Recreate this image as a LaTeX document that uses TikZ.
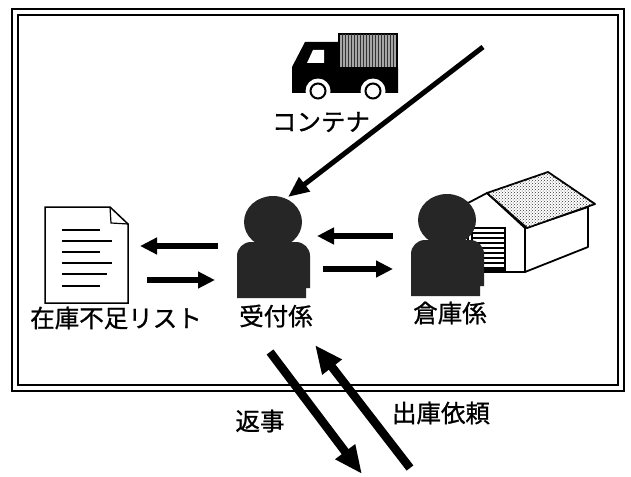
\documentclass[tikz,border=0pt]{standalone}
\usepackage{fontspec}
\newfontfamily\jp[FakeBold=1]{Noto Sans CJK JP}
\usetikzlibrary{arrows.meta,patterns}

\tikzset{
	jplabel/.style={font=\jp\fontsize{24.5}{28}\selectfont, inner sep=0pt},
	flow/.style={line width=5.5pt, -{Triangle[length=17pt,width=16pt]}},
	longflow/.style={line width=5pt, -{Triangle[length=21pt,width=17pt]}},
	bigflow/.style={line width=8.5pt, -{Triangle[length=28pt,width=23pt]}},
}
\def\worker(#1,#2){
	\begin{scope}[shift={(#1,#2)}]
		\fill[black!85] (0,0) ellipse (29pt and 26pt);
		\fill[black!85] (-36,76) -- (-36,34) arc[start angle=180, end angle=90, radius=14pt]
			-- (23,20) arc[start angle=90, end angle=0, radius=14pt]
			-- (37,66) -- (33,66) -- (33,76) -- cycle;
	\end{scope}
}

\begin{document}
\begin{tikzpicture}[x=1pt, y=-1pt]
		%%%%% START %%%%%
		\fill[white] (0,0) rectangle (631,476);
		\useasboundingbox (0,0) rectangle (631,476);
		
		\draw[line width=2pt] (12,9) rectangle (624,391);
		\draw[line width=2pt] (18,15) rectangle (618,385);
		
		\fill (292,93) -- (292,67) -- (305,42) -- (338,42) -- (338,68) -- (398,68) -- (398,93) -- cycle;
		\draw[line width=2.5pt, fill=black!35] (339,34) rectangle (397,68);
		\fill[pattern=vertical lines, pattern color=black!80] (340,35) rectangle (396,67);
		\fill[white] (307,63) -- (313,50) -- (324,50) -- (324,63) -- cycle;
		\fill[white] (318,91) circle (12.5pt);
		\draw[line width=2pt, fill=white] (318,91) circle (7.5pt);
		\fill[white] (373,91) circle (12.5pt);
		\draw[line width=2pt, fill=white] (373,91) circle (7.5pt);
		\node[jplabel] (container) at (321,122) {コンテナ};
		
		\draw[line width=1.5pt, fill=white] (45,207) -- (110,207) -- (128,224) -- (128,303) -- (45,303) -- cycle;
		\draw[line width=1.2pt] (110,207) -- (111,223) -- (128,224);
		\draw[line width=1.8pt] (62,230) -- (100,230);
		\draw[line width=1.8pt] (62,241) -- (112,241);
		\draw[line width=1.8pt] (62,252) -- (100,252);
		\draw[line width=1.8pt] (62,263) -- (112,263);
		\draw[line width=1.8pt] (62,274) -- (107,274);
		\draw[line width=1.8pt] (62,286) -- (100,286);
		\node[jplabel] (shortage) at (116,318) {在庫不足リスト};
		
		\draw[line width=1.8pt, fill=white, line join=round] (468,203) -- (487,193) -- (525,228) -- (525,272) -- (468,272) -- cycle;
		\draw[line width=1.8pt, fill=white, line join=round] (525,228) -- (588,207) -- (588,247) -- (525,272) -- cycle;
		\draw[line width=1.8pt, fill=white, line join=round] (487,193) -- (548,172) -- (595,204) -- (527,228) -- cycle;
		\fill[pattern=crosshatch dots, pattern color=black!80] (487,193) -- (548,172) -- (595,204) -- (527,228) -- cycle;
		\draw[line width=1.5pt, fill=white] (472,228) rectangle (505,270);
		\foreach \y in {233,238,...,268}
			\draw[line width=1.8pt] (472,\y) -- (505,\y);
		
		\worker(273,222)
		\worker(447,220)
		\node[jplabel] (receiver) at (276,316) {受付係};
		\node[jplabel] (keeper) at (450,313) {倉庫係};
		
		\coordinate (truck-out) at (483,47);
		\coordinate (receiver-top) at (288,197);
		\coordinate (list-in) at (140,246);
		\coordinate (list-out) at (147,280);
		\coordinate (receiver-w1) at (218,246);
		\coordinate (receiver-w2) at (215,280);
		\coordinate (receiver-e1) at (317,236);
		\coordinate (receiver-e2) at (323,269);
		\coordinate (keeper-w1) at (393,236);
		\coordinate (keeper-w2) at (393,269);
		\coordinate (reply-start) at (270,352);
		\coordinate (reply-end) at (362,474);
		\coordinate (order-start) at (410,468);
		\coordinate (order-end) at (315,345);
		
		\draw[longflow] (truck-out) -- (receiver-top);
		\draw[flow] (receiver-w1) -- (list-in);
		\draw[flow] (list-out) -- (receiver-w2);
		\draw[flow] (keeper-w1) -- (receiver-e1);
		\draw[flow] (receiver-e2) -- (keeper-w2);
		\draw[bigflow] (reply-start) -- (reply-end);
		\draw[bigflow] (order-start) -- (order-end);
		
		\node[jplabel] (reply) at (260,421) {返事};
		\node[jplabel] (order) at (441,413) {出庫依頼};
		%%%%% END %%%%%
	\end{tikzpicture}
\end{document}
